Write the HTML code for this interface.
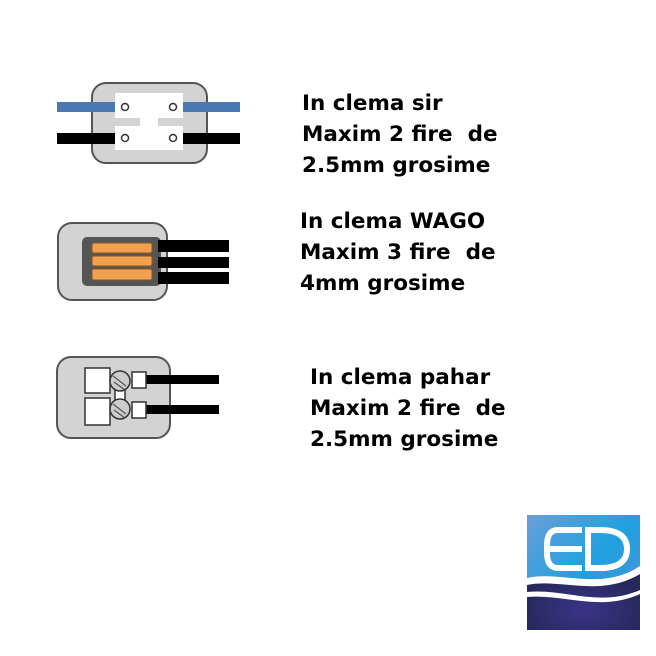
<!DOCTYPE html>
<html><head><meta charset="utf-8"><style>
body{margin:0;width:656px;height:656px;background:#fff;position:relative;overflow:hidden}
.t{position:absolute;font-family:"DejaVu Sans","Liberation Sans",sans-serif;font-weight:bold;font-size:21.5px;line-height:31px;color:#000;white-space:pre}
</style></head><body>
<svg width="656" height="656" style="position:absolute;left:0;top:0">
<defs>
<linearGradient id="sky" x1="0" y1="0" x2="1" y2="1"><stop offset="0" stop-color="#6a9fd8"/><stop offset=".5" stop-color="#1fa0e0"/><stop offset="1" stop-color="#5a8fd0"/></linearGradient>
<radialGradient id="sea" cx=".5" cy=".7" r=".6"><stop offset="0" stop-color="#3a3488"/><stop offset="1" stop-color="#24285a"/></radialGradient>
</defs>
<rect x="92" y="83" width="115" height="80" rx="14" fill="#d3d3d3" stroke="#555" stroke-width="2"/>
<rect x="115" y="93" width="68" height="57" fill="#fff"/>
<rect x="112" y="118" width="28" height="8" fill="#d3d3d3"/>
<rect x="158" y="118" width="28" height="8" fill="#d3d3d3"/>
<rect x="57" y="102" width="58" height="10" fill="#4a78b0"/>
<rect x="183" y="102" width="57" height="10" fill="#4a78b0"/>
<rect x="57" y="133" width="58" height="11" fill="#000"/>
<rect x="183" y="133" width="57" height="11" fill="#000"/>
<g fill="#fff" stroke="#333" stroke-width="1.5"><circle cx="125" cy="107" r="3.5"/><circle cx="173" cy="107" r="3.5"/><circle cx="125" cy="138" r="3.5"/><circle cx="173" cy="138" r="3.5"/></g>
<rect x="58" y="223" width="109" height="77" rx="14" fill="#d3d3d3" stroke="#555" stroke-width="2"/>
<rect x="82" y="237" width="79" height="49" rx="5" fill="#555"/>
<rect x="158" y="240" width="71" height="12" fill="#000"/>
<rect x="158" y="257" width="71" height="11" fill="#000"/>
<rect x="158" y="272" width="71" height="12" fill="#000"/>
<g fill="#f0a050" stroke="#8a5a20" stroke-width="1"><rect x="92" y="243" width="60" height="10" rx="2"/><rect x="92" y="256" width="60" height="10" rx="2"/><rect x="92" y="269" width="60" height="11" rx="2"/></g>
<rect x="57" y="357" width="113" height="81" rx="14" fill="#d3d3d3" stroke="#555" stroke-width="2"/>
<rect x="145" y="375" width="74" height="9" fill="#000"/>
<rect x="145" y="405" width="74" height="9" fill="#000"/>
<g fill="#fff" stroke="#333" stroke-width="1.5">
<polygon points="85,368 110,368 110,393 85,393"/><polygon points="85,398 110,398 110,425 85,425"/>
<rect x="132" y="372" width="14" height="16"/><rect x="132" y="402" width="14" height="16"/>
<rect x="115" y="390" width="10" height="10"/>
</g>
<g stroke="#333" stroke-width="1.5" fill="#ccc"><circle cx="120" cy="381" r="10"/><circle cx="120" cy="409" r="10"/></g>
<g stroke="#555" stroke-width="1.2"><line x1="113" y1="376" x2="126" y2="386"/><line x1="114" y1="382" x2="125" y2="390"/><line x1="113" y1="404" x2="126" y2="414"/><line x1="114" y1="410" x2="125" y2="418"/></g>
<rect x="527" y="515" width="113" height="115" fill="url(#sky)"/>
<path d="M527,578 C560,570 600,592 640,566 L640,630 L527,630 Z" fill="url(#sea)"/>
<path d="M527,578 C560,570 600,592 640,566 L640,574 C600,598 560,578 527,585 Z" fill="#fff"/>
<path d="M527,592 C565,588 600,608 640,590 L640,594 C600,612 565,594 527,597 Z" fill="#fff"/>
<g fill="none" stroke="#fff" stroke-width="6">
<path d="M582,530 L558,530 Q547,530 547,545 L547,553 Q547,568 558,568 L582,568 M582,549 L549,549"/>
<path d="M588,530 L600,530 Q627,530 627,549 Q627,568 600,568 L588,568 Z" />
</g>
</svg>
<div class="t" style="left:302px;top:88px">In clema sir
Maxim 2 fire  de
2.5mm grosime</div>
<div class="t" style="left:300px;top:206px">In clema WAGO
Maxim 3 fire  de
4mm grosime</div>
<div class="t" style="left:310px;top:362px">In clema pahar
Maxim 2 fire  de
2.5mm grosime</div>
</body></html>
